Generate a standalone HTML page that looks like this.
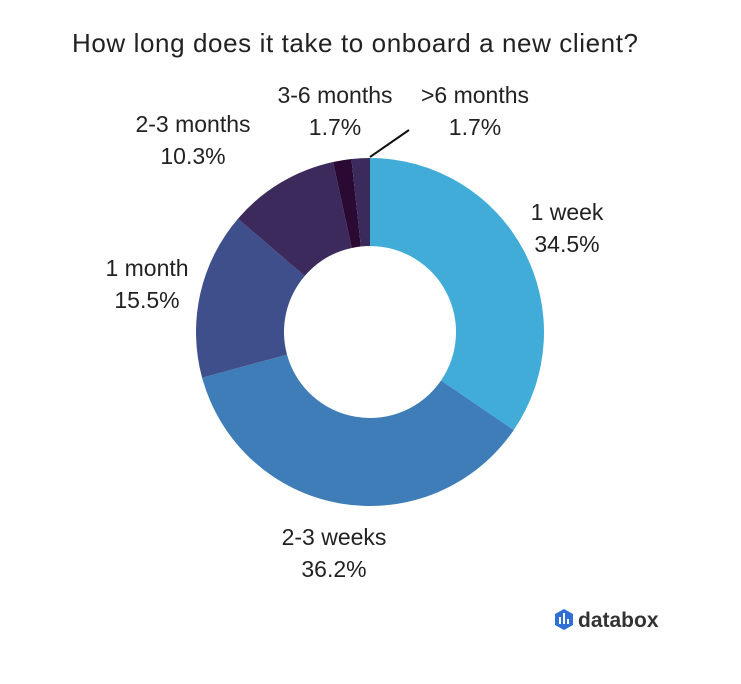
<!DOCTYPE html>
<html><head><meta charset="utf-8"><style>
body{margin:0;background:#fff;width:741px;height:679px;overflow:hidden;font-family:"Liberation Sans",sans-serif}
svg text{font-family:"Liberation Sans",sans-serif;fill:#222}
</style></head><body>
<svg id="chart" width="741" height="679" xmlns="http://www.w3.org/2000/svg">
<text x="72" y="52" font-size="26" textLength="566">How long does it take to onboard a new client?</text>
<g id="slices"></g>
<g id="labels"></g>
<line x1="370" y1="157" x2="409" y2="130" stroke="#111" stroke-width="2"/>
<g>
<polygon points="564,609 573,614 573,625 564,630 555,625 555,614" fill="#2f6fd6"/>
<rect x="559" y="617" width="2" height="7" fill="#fff"/><rect x="563" y="613" width="2" height="11" fill="#fff"/><rect x="567" y="619" width="2" height="5" fill="#fff"/>
<text x="578" y="627" font-size="21" font-weight="bold" style="fill:#333">databox</text>
</g>
</svg>
<script>
const categories=["1 week","2-3 weeks","1 month","2-3 months","3-6 months",">6 months"];
const values=[34.5,36.2,15.5,10.3,1.7,1.7];
const labelText=["34.5%","36.2%","15.5%","10.3%","1.7%","1.7%"];
const colors=["#42acd8","#3e7db8","#3f4f8c","#3d2a5c","#2a0a33","#3b2a5c"];
const labelPos=[[567,220],[334,545],[147,276],[193,132],[335,103],[475,103]];
const cx=370,cy=332,R=174,r=86;
const total=values.reduce((a,b)=>a+b,0);
const ns="http://www.w3.org/2000/svg";
function pt(a,rad){return [cx+rad*Math.sin(a),cy-rad*Math.cos(a)];}
let acc=0;
const g=document.getElementById('slices'),lg=document.getElementById('labels');
values.forEach((v,i)=>{
 const a0=acc/total*2*Math.PI;acc+=v;const a1=acc/total*2*Math.PI;
 const large=(a1-a0)>Math.PI?1:0;
 const [x0,y0]=pt(a0,R),[x1,y1]=pt(a1,R),[x2,y2]=pt(a1,r),[x3,y3]=pt(a0,r);
 const p=document.createElementNS(ns,'path');
 p.setAttribute('d',`M${x0},${y0}A${R},${R} 0 ${large} 1 ${x1},${y1}L${x2},${y2}A${r},${r} 0 ${large} 0 ${x3},${y3}Z`);
 p.setAttribute('fill',colors[i]);
 
 
 g.appendChild(p);
 const [lx,ly]=labelPos[i];
 const t=document.createElementNS(ns,'text');
 t.setAttribute('x',lx);t.setAttribute('y',ly);t.setAttribute('font-size','23');t.setAttribute('text-anchor','middle');
 
 
 const s1=document.createElementNS(ns,'tspan');s1.setAttribute('x',lx);s1.textContent=categories[i];
 const s2=document.createElementNS(ns,'tspan');s2.setAttribute('x',lx);s2.setAttribute('dy','32');s2.textContent=labelText[i];
 t.appendChild(s1);t.appendChild(s2);lg.appendChild(t);
});
</script>
</body></html>
